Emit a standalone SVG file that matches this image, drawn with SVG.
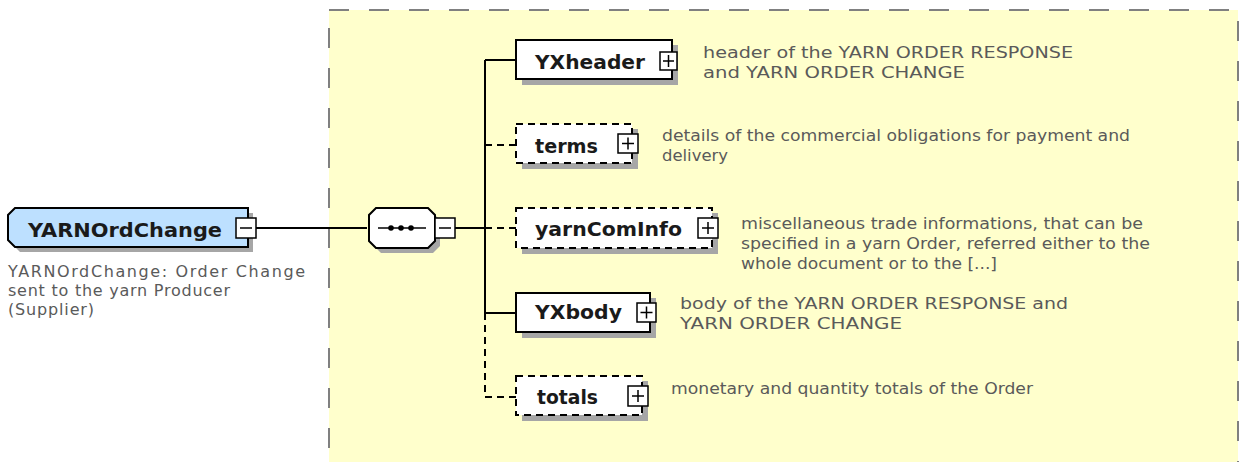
<svg xmlns="http://www.w3.org/2000/svg" width="1239" height="462" viewBox="0 0 1239 462">
<style>
.bg{fill:#ffffcc;stroke:#808080;stroke-width:2;stroke-dasharray:20 20}
.shadow{fill:#a6a6a6;stroke:none}
.box{fill:#ffffff;stroke:#000;stroke-width:2}
.opt{fill:#ffffff;stroke:#000;stroke-width:2;stroke-dasharray:7 5}
.root{fill:#bde0ff;stroke:#000;stroke-width:2}
.btn{fill:#ffffff;stroke:#000;stroke-width:1.5}
.sym{stroke:#000;stroke-width:1.5;fill:none}
.lbl{font-family:"DejaVu Sans","Liberation Sans",sans-serif;font-weight:bold;font-size:20px;fill:#1a1a1a}
.desc{font-family:"DejaVu Sans","Liberation Sans",sans-serif;font-size:16px;fill:#5a5a5a}
.line{stroke:#000;stroke-width:2;fill:none}
.dline{stroke:#000;stroke-width:2;fill:none;stroke-dasharray:7 5}
</style>
<rect class="bg" x="329" y="10" width="909" height="470"/>
<g id="connectors">
<line class="line" x1="256" y1="228" x2="367" y2="228"/>
<line class="line" x1="455" y1="228" x2="485" y2="228"/>
<line class="line" x1="485" y1="60" x2="485" y2="313"/>
<line class="dline" x1="485" y1="313" x2="485" y2="397"/>
<line class="line" x1="485" y1="60" x2="516" y2="60"/>
<line class="dline" x1="485" y1="145" x2="516" y2="145"/>
<line class="dline" x1="485" y1="228" x2="516" y2="228"/>
<line class="line" x1="485" y1="313" x2="516" y2="313"/>
<line class="dline" x1="485" y1="397" x2="516" y2="397"/>
</g>
<g id="YARNOrdChange">
<polygon class="shadow" points="20,213 253,213 253,252 20,252 13,245 13,220"/>
<polygon class="root" points="15,208 248,208 248,247 15,247 8,240 8,215"/>
<text class="lbl" x="28" y="237" textLength="194" lengthAdjust="spacingAndGlyphs">YARNOrdChange</text>
<rect class="btn" x="236" y="218" width="20" height="20"/>
<line class="sym" x1="240" y1="228" x2="252" y2="228"/>
<text class="desc" x="8" y="277" textLength="297" lengthAdjust="spacing">YARNOrdChange: Order Change</text>
<text class="desc" x="8" y="296" textLength="222" lengthAdjust="spacing">sent to the yarn Producer</text>
<text class="desc" x="8" y="315" textLength="86" lengthAdjust="spacing">(Supplier)</text>
</g>
<g id="sequence">
<polygon class="shadow" points="381,213 433,213 440,220 440,246 433,253 381,253 374,246 374,220"/>
<polygon class="box" points="376,208 428,208 435,215 435,241 428,248 376,248 369,241 369,215"/>
<line class="sym" x1="378" y1="228" x2="426" y2="228"/>
<circle cx="391" cy="228" r="2.8" fill="#000"/>
<circle cx="401" cy="228" r="2.8" fill="#000"/>
<circle cx="411" cy="228" r="2.8" fill="#000"/>
<rect class="btn" x="435" y="218" width="20" height="20"/>
<line class="sym" x1="439" y1="228" x2="451" y2="228"/>
</g>
<g id="YXheader">
<rect class="shadow" x="522" y="45" width="156" height="40"/>
<rect class="box" x="516" y="40" width="156" height="39"/>
<text class="lbl" x="535" y="69" textLength="110" lengthAdjust="spacingAndGlyphs">YXheader</text>
<rect class="btn" x="660" y="52" width="17" height="18"/>
<path class="sym" d="M663 61h11M668.5 55v12"/>
<text class="desc" x="703" y="58" textLength="370" lengthAdjust="spacingAndGlyphs">header of the YARN ORDER RESPONSE</text>
<text class="desc" x="703" y="78" textLength="262" lengthAdjust="spacingAndGlyphs">and YARN ORDER CHANGE</text>
</g>
<g id="terms">
<rect class="shadow" x="522" y="129" width="116" height="40"/>
<rect class="opt" x="516" y="124" width="116" height="39"/>
<text class="lbl" x="535" y="153" textLength="63" lengthAdjust="spacingAndGlyphs">terms</text>
<rect class="btn" x="618" y="134" width="20" height="19"/>
<path class="sym" d="M622 143.5h12M628 137.5v12"/>
<text class="desc" x="662" y="141" textLength="468" lengthAdjust="spacingAndGlyphs">details of the commercial obligations for payment and</text>
<text class="desc" x="662" y="161" textLength="66" lengthAdjust="spacingAndGlyphs">delivery</text>
</g>
<g id="yarnComInfo">
<rect class="shadow" x="522" y="213" width="196" height="41"/>
<rect class="opt" x="516" y="208" width="196" height="40"/>
<text class="lbl" x="535" y="236" textLength="147" lengthAdjust="spacingAndGlyphs">yarnComInfo</text>
<rect class="btn" x="698" y="218" width="20" height="20"/>
<path class="sym" d="M702 228h12M708 222v12"/>
<text class="desc" x="741" y="229" textLength="402" lengthAdjust="spacingAndGlyphs">miscellaneous trade informations, that can be</text>
<text class="desc" x="741" y="249" textLength="409" lengthAdjust="spacingAndGlyphs">specified in a yarn Order, referred either to the</text>
<text class="desc" x="741" y="269" textLength="256" lengthAdjust="spacingAndGlyphs">whole document or to the [...]</text>
</g>
<g id="YXbody">
<rect class="shadow" x="522" y="298" width="134" height="40"/>
<rect class="box" x="516" y="293" width="134" height="39"/>
<text class="lbl" x="535" y="319" textLength="87" lengthAdjust="spacingAndGlyphs">YXbody</text>
<rect class="btn" x="637" y="303" width="19" height="19"/>
<path class="sym" d="M640.5 312.5h12M646.5 306.5v12"/>
<text class="desc" x="680" y="309" textLength="388" lengthAdjust="spacingAndGlyphs">body of the YARN ORDER RESPONSE and</text>
<text class="desc" x="680" y="329" textLength="222" lengthAdjust="spacingAndGlyphs">YARN ORDER CHANGE</text>
</g>
<g id="totals">
<rect class="shadow" x="522" y="381" width="126" height="40"/>
<rect class="opt" x="516" y="376" width="126" height="39"/>
<text class="lbl" x="537" y="404" textLength="61" lengthAdjust="spacingAndGlyphs">totals</text>
<rect class="btn" x="628" y="386" width="20" height="20"/>
<path class="sym" d="M632 396h12M638 390v12"/>
<text class="desc" x="671" y="394" textLength="362" lengthAdjust="spacingAndGlyphs">monetary and quantity totals of the Order</text>
</g>
</svg>
